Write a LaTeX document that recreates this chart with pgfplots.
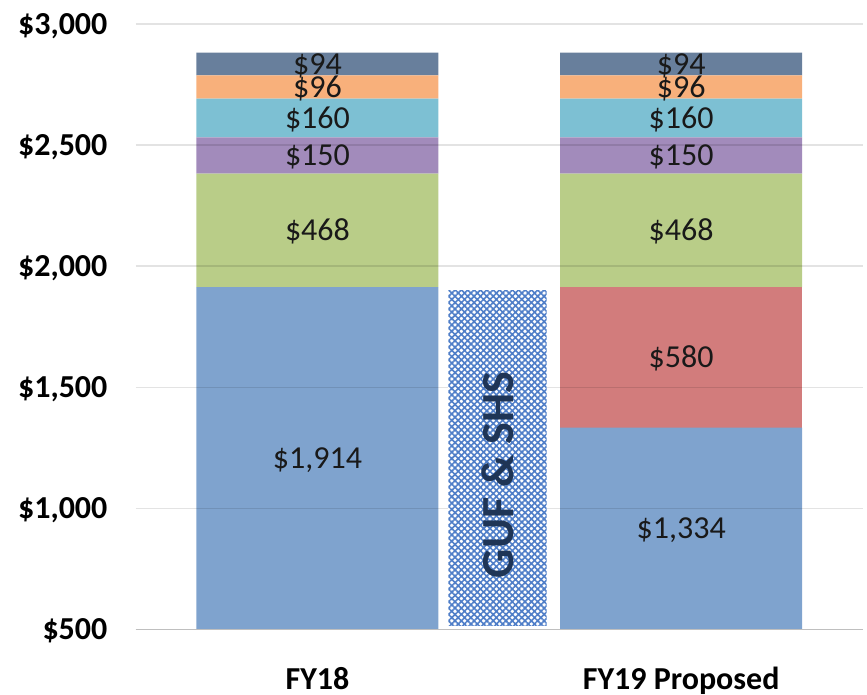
\documentclass[border=0pt]{standalone}
\usepackage{pgfplots}
\usepackage{pgfplotstable}
\pgfplotsset{compat=1.18}
\usepackage{fontspec}
\setmainfont{Carlito}
\usetikzlibrary{patterns.meta}
\definecolor{cBlue}{HTML}{7FA3CE}
\definecolor{cRed}{HTML}{D27C7C}
\definecolor{cGreen}{HTML}{B9CD88}
\definecolor{cPurple}{HTML}{A28BBB}
\definecolor{cCyan}{HTML}{7DC0D3}
\definecolor{cOrange}{HTML}{F8B07B}
\definecolor{cSlate}{HTML}{687F9C}
\definecolor{cNavy}{HTML}{1F3556}
\definecolor{cHatch}{HTML}{4F7EC8}
% segment labels: x, lower and upper edge of the visible segment, value
\pgfplotstableread{
x lo hi val
0 500 1914 1914
2 500 1334 1334
2 1334 1914 580
0 1914 2382 468
2 1914 2382 468
0 2382 2532 150
2 2382 2532 150
0 2532 2692 160
2 2532 2692 160
0 2692 2788 96
2 2692 2788 96
0 2788 2882 94
2 2788 2882 94
}\labels
\pgfplotsset{
  common/.style={
    at={(0pt,0pt)}, anchor=south west,
    scale only axis, width=727.4pt, height=605.5pt,
    xmin=-1, xmax=3, ymin=500, ymax=3000,
  },
}
\begin{document}
\begin{tikzpicture}
\begin{axis}[
  common,
  ybar stacked, bar width=242pt,
  axis on top,
  axis x line*=bottom, axis y line*=left,
  y axis line style={draw=none},
  x axis line style={draw=black!25, line width=1.6pt},
  ymajorgrids, grid style={draw=black, draw opacity=0.11, line width=1.6pt},
  ytick={500,1000,1500,2000,2500,3000},
  xtick={0,2}, xticklabels={FY18, FY19 Proposed},
  major tick length=0pt,
  scaled y ticks=false,
  /pgf/number format/assume math mode=true,
  /pgf/number format/1000 sep={,},
  yticklabel={\$\pgfmathprintnumber{\tick}},
  yticklabel style={font=\bfseries\fontsize{32}{38}\selectfont, anchor=base east, inner sep=0pt, xshift=-28pt, yshift=-10.4pt},
  xticklabel style={font=\bfseries\fontsize{32}{38}\selectfont, anchor=base, inner sep=0pt, yshift=-59.5pt},
]
\addplot[fill=cBlue, draw=none] coordinates {(0,1914) (2,1334)};
\addplot[fill=cRed, draw=none] coordinates {(0,0) (2,580)};
\addplot[fill=cGreen, draw=none] coordinates {(0,468) (2,468)};
\addplot[fill=cPurple, draw=none] coordinates {(0,150) (2,150)};
\addplot[fill=cCyan, draw=none] coordinates {(0,160) (2,160)};
\addplot[fill=cOrange, draw=none] coordinates {(0,96) (2,96)};
\addplot[fill=cSlate, draw=none] coordinates {(0,94) (2,94)};
\end{axis}
\begin{axis}[
  common,
  hide axis, ybar stacked, bar width=98.4pt,
]
\addplot[draw=none, fill=none] coordinates {(0.99,518)};
\addplot[draw=none, fill=white, postaction={pattern={Hatch[angle=45, distance=4.5pt, line width=1.6pt]}, pattern color=cHatch}] coordinates {(0.99,1382)};
\end{axis}
\begin{axis}[
  common, hide axis,
  /pgf/number format/assume math mode=true,
  /pgf/number format/1000 sep={,},
]
\addplot[draw=none, mark=none, point meta=explicit,
  nodes near coords={\$\pgfmathprintnumber{\pgfplotspointmeta}},
  every node near coord/.style={font=\fontsize{32}{38}\selectfont, text=black!90, anchor=base, inner sep=0pt, yshift=-10.4pt}]
  table[x=x, y expr={(\thisrow{lo}+\thisrow{hi})/2}, meta=val] {\labels};
\addplot[draw=none, mark=none,
  nodes near coords={GUF \& SHS},
  every node near coord/.style={rotate=90, anchor=center, inner sep=0pt,
    font=\bfseries\fontsize{46}{46}\selectfont, text=cNavy}] coordinates {(0.99,1138)};
\end{axis}
\pgfresetboundingbox
\path[use as bounding box] (-135.6pt,-64.5pt) rectangle (731.4pt,629.5pt);
\end{tikzpicture}
\end{document}
